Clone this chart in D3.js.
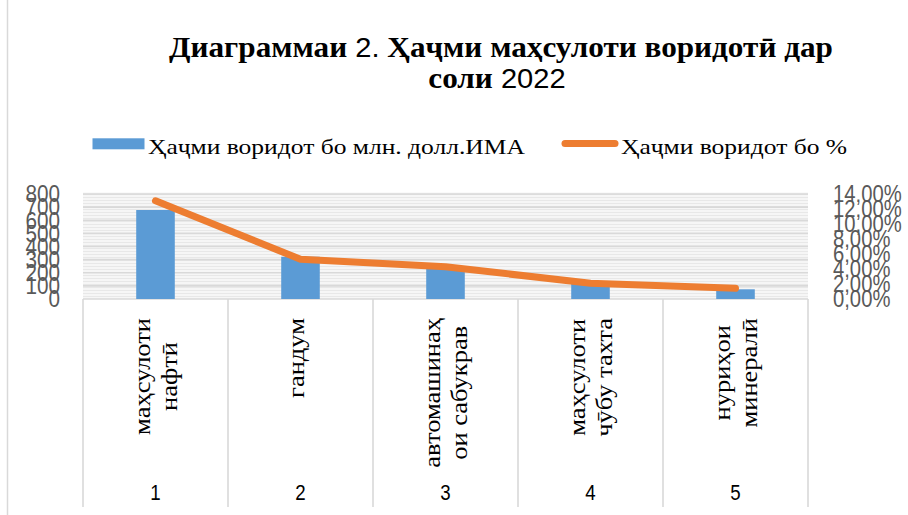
<!DOCTYPE html>
<html><head><meta charset="utf-8">
<script src="https://cdn.jsdelivr.net/npm/d3@7"></script>
<style>body{margin:0;background:#fff}svg{display:block}</style>
</head><body>
<svg id="c" width="908" height="515"></svg>
<script>
// ---- data ----
const categories = ["маҳсулоти нафтӣ", "гандум", "автомашинаҳои сабукрав", "маҳсулоти чӯбу тахта", "нуриҳои минералӣ"];
const categoryLines = [["маҳсулоти","нафтӣ"],["гандум"],["автомашинаҳ","ои сабукрав"],["маҳсулоти","чӯбу тахта"],["нуриҳои","минералӣ"]];
const categoryNumbers = ["1","2","3","4","5"];
const importValues = [678, 322, 234, 115, 74];      // млн. долл. ИМА
const importShares = [0.131, 0.053, 0.043, 0.021, 0.0143]; // %
const leftTicks = [0,100,200,300,400,500,600,700,800];
const rightTicks = [0,0.02,0.04,0.06,0.08,0.10,0.12,0.14];
const seriesNames = ["Ҳаҷми воридот бо млн. долл.ИМА", "Ҳаҷми воридот бо %"];

const svg = d3.select("#c");
const SERIF = "'Liberation Serif','Times New Roman',serif";
const SANS = "'Liberation Sans',Arial,sans-serif";
const BLUE = "#5B9BD5", ORANGE = "#ED7D31", GRID = "#d9d9d9";

const x0 = 83, x1 = 808, yTop = 194, yBase = 299;
const x = d3.scaleBand().domain(d3.range(categories.length)).range([x0, x1]).padding(0);
const yL = d3.scaleLinear().domain([0, 800]).range([yBase, yTop]);
const yR = d3.scaleLinear().domain([0, 0.14]).range([yBase, yTop]);

// outer border (left)
svg.append("line").attr("x1",7.5).attr("x2",7.5).attr("y1",0).attr("y2",515).attr("stroke",GRID).attr("stroke-width",1.5);

// plot background pattern
const defs = svg.append("defs");
const pat = defs.append("pattern").attr("id","stripes").attr("patternUnits","userSpaceOnUse").attr("width",6).attr("height",3);
pat.append("rect").attr("width",6).attr("height",3).attr("fill","#f6f6f6");
pat.append("rect").attr("y",2).attr("width",6).attr("height",1).attr("fill","#e8e8e8");
svg.append("rect").attr("x",x0).attr("y",yTop-1.5).attr("width",x1-x0).attr("height",yBase-yTop+1.5).attr("fill","url(#stripes)");

// gridlines
svg.append("g").selectAll("line").data(leftTicks).join("line")
  .attr("x1",x0).attr("x2",x1).attr("y1",d=>yL(d)).attr("y2",d=>yL(d))
  .attr("stroke",GRID).attr("stroke-width",1.6);

// category dividers
svg.append("g").selectAll("line").data(d3.range(categories.length+1)).join("line")
  .attr("x1",i=> i<categories.length ? x(i) : x1).attr("x2",i=> i<categories.length ? x(i) : x1)
  .attr("y1",yBase).attr("y2",507).attr("stroke",GRID).attr("stroke-width",1.6);

// bars
const barW = x.bandwidth()*0.266;
svg.append("g").selectAll("rect").data(importValues).join("rect")
  .attr("x",(d,i)=>x(i)+x.bandwidth()/2-barW/2).attr("width",barW)
  .attr("y",d=>yL(d)).attr("height",d=>yBase-yL(d)).attr("fill",BLUE);

// line
const line = d3.line().x((d,i)=>x(i)+x.bandwidth()/2).y(d=>yR(d));
svg.append("path").datum(importShares).attr("d",line).attr("fill","none")
  .attr("stroke",ORANGE).attr("stroke-width",7).attr("stroke-linecap","round").attr("stroke-linejoin","round");

// left tick labels
const tickSX = 0.9;
svg.append("g").selectAll("g").data(leftTicks).join("g")
  .attr("transform",d=>`translate(60,${yL(d)}) scale(${tickSX},1)`)
  .append("text").attr("text-anchor","end").attr("dy","0.36em")
  .attr("font-family",SANS).attr("font-size",23).attr("fill","#595959").text(d=>d);

// right tick labels
const fmtPct = d => (d*100).toFixed(2).replace(".",",") + "%";
svg.append("g").selectAll("g").data(rightTicks).join("g")
  .attr("transform",d=>`translate(833,${yR(d)}) scale(0.88,1)`)
  .append("text").attr("text-anchor","start").attr("dy","0.36em")
  .attr("font-family",SANS).attr("font-size",23).attr("fill","#595959").text(fmtPct);

// category labels (rotated)
const probe = svg.append("text").attr("font-family",SERIF).attr("font-size",24).text("маҳсулоти");
const catScale = 117 / probe.node().getComputedTextLength();
probe.remove();
categoryLines.forEach((lines,i)=>{
  const cx = x(i)+x.bandwidth()/2;
  const g = svg.append("g").attr("transform",`translate(${cx},318) rotate(-90) scale(${catScale},1)`);
  const n = lines.length;
  const texts = lines.map((t,k)=> g.append("text").attr("font-family",SERIF).attr("font-size",24).attr("fill","#000")
      .attr("text-anchor","middle").attr("y",(k-(n-1)/2)*27 + (n===1?3:8)).text(t));
  const maxLen = d3.max(texts, t=>t.node().getComputedTextLength());
  texts.forEach(t=>t.attr("x",-maxLen/2));
});

// category numbers
svg.append("g").selectAll("g").data(categoryNumbers).join("g")
  .attr("transform",(d,i)=>`translate(${x(i)+x.bandwidth()/2},500) scale(0.85,1)`)
  .append("text").attr("text-anchor","middle").attr("font-family",SANS).attr("font-size",22).attr("fill","#000").text(d=>d);

// legend
svg.append("rect").attr("x",92.5).attr("y",138.3).attr("width",52).attr("height",11).attr("fill",BLUE);
svg.append("line").attr("x1",565).attr("x2",615).attr("y1",143.5).attr("y2",143.5)
  .attr("stroke",ORANGE).attr("stroke-width",7).attr("stroke-linecap","round");
const lg1 = svg.append("g");
const lt1 = lg1.append("text").attr("font-family",SERIF).attr("font-size",22).attr("fill","#000").text(seriesNames[0]);
const legScale = 377 / lt1.node().getComputedTextLength();
lg1.attr("transform",`translate(148,153.5) scale(${legScale},1)`);
svg.append("g").attr("transform",`translate(621,153.5) scale(${legScale},1)`)
  .append("text").attr("font-family",SERIF).attr("font-size",22).attr("fill","#000").text(seriesNames[1]);

// title
const tg1 = svg.append("g");
const t1 = tg1.append("text").attr("font-size",30).attr("fill","#000").attr("text-anchor","middle");
t1.append("tspan").attr("font-family",SERIF).attr("font-weight","bold").text("Диаграммаи");
t1.append("tspan").attr("font-family",SANS).attr("font-size",28).text(" 2.");
t1.append("tspan").attr("font-family",SERIF).attr("font-weight","bold").text(" Ҳаҷми маҳсулоти воридотӣ дар");
const titleScale = 664 / t1.node().getComputedTextLength();
tg1.attr("transform",`translate(501,56.5) scale(${titleScale},1)`);
const tg2 = svg.append("g").attr("transform",`translate(497,88) scale(${titleScale},1)`);
const t2 = tg2.append("text").attr("font-size",30).attr("fill","#000").attr("text-anchor","middle");
t2.append("tspan").attr("font-family",SERIF).attr("font-weight","bold").text("соли");
t2.append("tspan").attr("font-family",SANS).attr("font-size",28).text(" 2022");
</script>
</body></html>
